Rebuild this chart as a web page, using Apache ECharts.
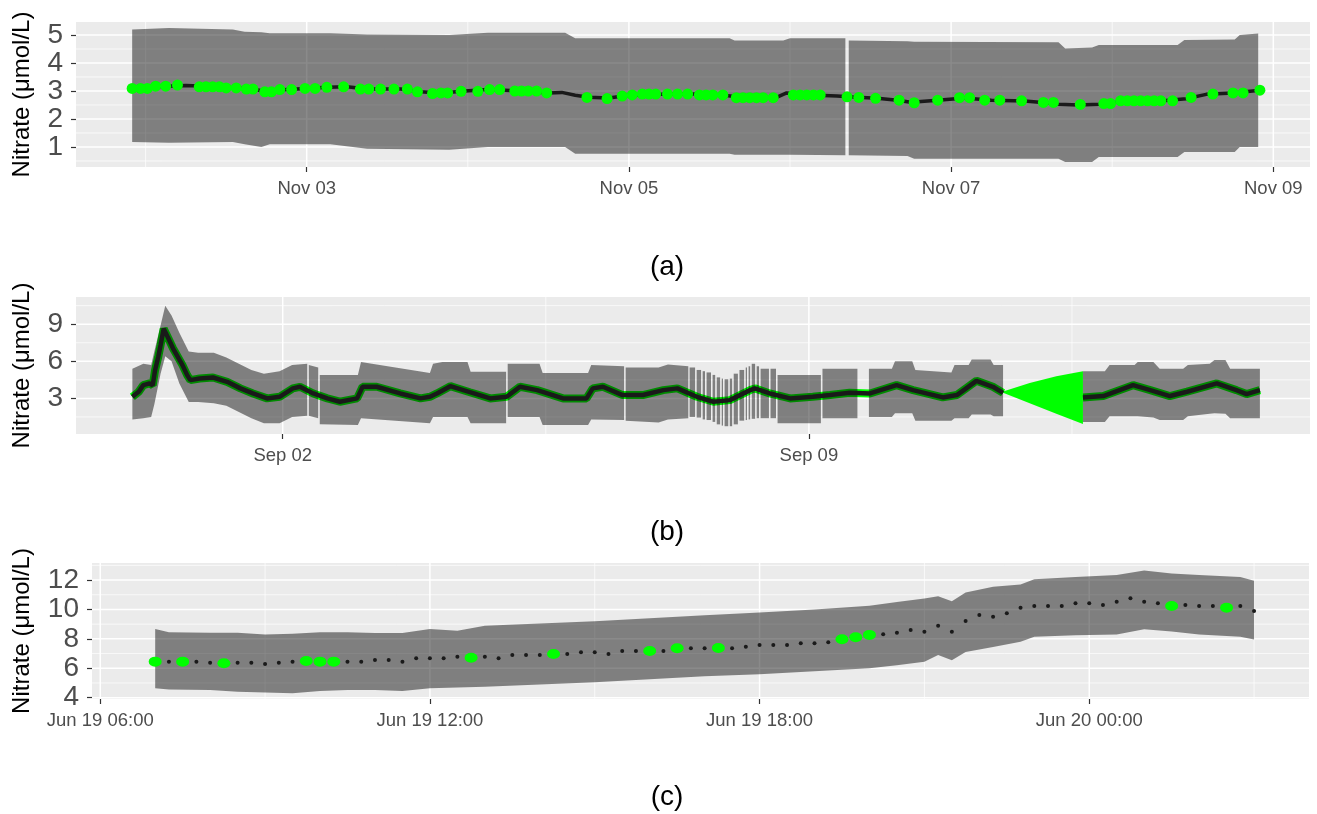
<!DOCTYPE html>
<html>
<head>
<meta charset="utf-8">
<title>Nitrate</title>
<script src="https://cdn.jsdelivr.net/npm/echarts@6/dist/echarts.min.js"></script>
<style>
  html, body { margin: 0; padding: 0; background: #fff; }
  #chart { width: 1317px; height: 814px; }
</style>
</head>
<body>
<div id="chart"></div>
<script>
// ---- panel (a): November ----
const yearA = 2019
const modelA = [
  ['11-01 22:00', 3.12], ['11-02 03:00', 3.17], ['11-02 06:00', 3.2], ['11-02 09:00', 3.17],
  ['11-02 13:00', 3.12], ['11-02 16:00', 3.07], ['11-02 18:00', 2.97], ['11-02 21:00', 3.05],
  ['11-03 00:00', 3.09], ['11-03 03:00', 3.13], ['11-03 06:00', 3.15], ['11-03 09:00', 3.07],
  ['11-03 14:00', 3.07], ['11-03 17:00', 2.97], ['11-03 20:00', 2.92], ['11-03 23:00', 2.99],
  ['11-04 03:00', 3.05], ['11-04 08:00', 3.0], ['11-04 12:00', 2.93], ['11-04 14:00', 2.95],
  ['11-04 16:00', 2.85], ['11-04 18:00', 2.78], ['11-04 21:00', 2.75], ['11-05 00:00', 2.85],
  ['11-05 06:00', 2.89], ['11-05 10:00', 2.89], ['11-05 14:00', 2.86], ['11-05 17:00', 2.76],
  ['11-05 22:00', 2.77], ['11-05 23:30', 2.93], ['11-06 03:00', 2.86], ['11-06 07:00', 2.82],
  ['11-06 10:00', 2.78], ['11-06 13:00', 2.74], ['11-06 16:00', 2.67], ['11-06 18:00', 2.6],
  ['11-06 22:00', 2.67], ['11-07 02:00', 2.75], ['11-07 06:00', 2.67], ['11-07 11:00', 2.64],
  ['11-07 14:00', 2.58], ['11-07 16:00', 2.53], ['11-07 19:00', 2.5], ['11-07 22:00', 2.53],
  ['11-08 02:00', 2.63], ['11-08 08:00', 2.66], ['11-08 11:00', 2.72], ['11-08 14:00', 2.88],
  ['11-08 18:00', 2.93], ['11-08 22:00', 3.03]
]
const obsA = [
  ['11-01 22:00', 3.09], ['11-01 23:15', 3.09], ['11-02 00:15', 3.09], ['11-02 01:30', 3.17],
  ['11-02 03:00', 3.17], ['11-02 04:45', 3.21], ['11-02 08:00', 3.15], ['11-02 09:00', 3.15],
  ['11-02 10:00', 3.15], ['11-02 11:00', 3.15], ['11-02 12:00', 3.11], ['11-02 13:30', 3.11],
  ['11-02 15:00', 3.07], ['11-02 16:00', 3.07], ['11-02 17:45', 2.97], ['11-02 18:45', 2.97],
  ['11-02 20:00', 3.05], ['11-02 21:45', 3.05], ['11-02 23:45', 3.09], ['11-03 01:15', 3.09],
  ['11-03 03:00', 3.13], ['11-03 05:30', 3.15], ['11-03 08:00', 3.07], ['11-03 09:15', 3.07],
  ['11-03 11:00', 3.07], ['11-03 13:00', 3.07], ['11-03 15:00', 3.07], ['11-03 16:30', 2.97],
  ['11-03 18:45', 2.91], ['11-03 20:00', 2.93], ['11-03 21:00', 2.93], ['11-03 23:00', 2.99],
  ['11-04 01:30', 2.99], ['11-04 03:15', 3.05], ['11-04 04:45', 3.05], ['11-04 07:00', 3.0],
  ['11-04 08:00', 3.0], ['11-04 09:00', 3.0], ['11-04 10:15', 3.0], ['11-04 11:45', 2.93],
  ['11-04 17:45', 2.77], ['11-04 20:45', 2.73], ['11-04 23:00', 2.82], ['11-05 00:30', 2.86],
  ['11-05 02:00', 2.89], ['11-05 03:00', 2.89], ['11-05 04:00', 2.89], ['11-05 05:45', 2.89],
  ['11-05 07:15', 2.89], ['11-05 08:45', 2.89], ['11-05 10:30', 2.86], ['11-05 11:30', 2.86],
  ['11-05 12:30', 2.86], ['11-05 14:00', 2.86], ['11-05 16:00', 2.76], ['11-05 17:00', 2.76],
  ['11-05 18:00', 2.76], ['11-05 19:00', 2.76], ['11-05 20:00', 2.76], ['11-05 21:30', 2.76],
  ['11-06 00:30', 2.86], ['11-06 01:30', 2.86], ['11-06 02:30', 2.86], ['11-06 03:30', 2.86],
  ['11-06 04:30', 2.86], ['11-06 08:30', 2.79], ['11-06 10:15', 2.77], ['11-06 12:45', 2.74],
  ['11-06 16:15', 2.67], ['11-06 18:30', 2.58], ['11-06 22:00', 2.67], ['11-07 01:15', 2.76],
  ['11-07 02:45', 2.76], ['11-07 05:00', 2.67], ['11-07 07:15', 2.67], ['11-07 10:30', 2.65],
  ['11-07 13:45', 2.59], ['11-07 15:15', 2.59], ['11-07 19:15', 2.52], ['11-07 22:45', 2.55],
  ['11-07 23:45', 2.55], ['11-08 01:15', 2.65], ['11-08 02:15', 2.65], ['11-08 03:15', 2.65],
  ['11-08 04:15', 2.65], ['11-08 05:15', 2.65], ['11-08 06:15', 2.65], ['11-08 07:15', 2.65],
  ['11-08 09:00', 2.65], ['11-08 11:45', 2.77], ['11-08 15:00', 2.89], ['11-08 18:00', 2.93],
  ['11-08 19:30', 2.93], ['11-08 22:00', 3.03]
]
// [time, lower, upper]; null = break in the band
const ribbonA = [
  ['11-01 22:00', 1.18, 5.2], ['11-02 03:30', 1.15, 5.25], ['11-02 13:00', 1.18, 5.2],
  ['11-02 14:45', 1.1, 5.12], ['11-02 17:15', 1.0, 5.1], ['11-02 18:30', 1.1, 5.06],
  ['11-03 03:30', 1.1, 5.06], ['11-03 09:00', 0.94, 5.02], ['11-03 21:15', 0.9, 5.0],
  ['11-04 03:00', 1.0, 5.08], ['11-04 14:30', 1.0, 5.08], ['11-04 16:00', 0.76, 4.88],
  ['11-05 15:00', 0.76, 4.88], ['11-05 15:45', 0.72, 4.8], ['11-05 23:00', 0.72, 4.8],
  ['11-06 00:00', 0.72, 4.88], ['11-06 08:15', 0.7, 4.88],
  null,
  ['11-06 08:45', 0.7, 4.8], ['11-06 17:30', 0.68, 4.78], ['11-06 18:30', 0.58, 4.76],
  ['11-07 16:00', 0.58, 4.74], ['11-07 17:00', 0.46, 4.52], ['11-07 21:00', 0.46, 4.55],
  ['11-07 22:00', 0.64, 4.64], ['11-08 09:45', 0.64, 4.64], ['11-08 10:45', 0.82, 4.82],
  ['11-08 18:15', 0.82, 4.84], ['11-08 19:00', 1.0, 5.0], ['11-08 21:45', 1.0, 5.05]
]
const xTicksA = ['11-03', '11-05', '11-07', '11-09']
const xMinorA = ['11-02', '11-04', '11-06', '11-08']
const yTicksA = [1, 2, 3, 4, 5]
const yMinorA = [0.5, 1.5, 2.5, 3.5, 4.5]

// ---- panel (b): September ----
const yearB = 2019
const modelB = [
  ['08-31 00:00', 3.13], ['08-31 02:00', 3.53], ['08-31 03:30', 4.07], ['08-31 05:30', 4.21],
  ['08-31 06:30', 4.07], ['08-31 07:15', 5.28], ['08-31 08:15', 6.35], ['08-31 09:00', 7.3],
  ['08-31 10:00', 8.64], ['08-31 10:30', 8.5], ['08-31 11:30', 7.84], ['08-31 13:00', 7.03],
  ['08-31 16:00', 5.69], ['08-31 17:30', 4.88], ['08-31 18:30', 4.48], ['08-31 21:30', 4.61],
  ['09-01 01:45', 4.69], ['09-01 06:15', 4.34], ['09-01 10:30', 3.81], ['09-01 14:30', 3.4],
  ['09-01 19:00', 3.0], ['09-01 23:00', 3.13], ['09-02 03:15', 3.81], ['09-02 05:30', 3.94],
  ['09-02 09:45', 3.4], ['09-02 14:15', 3.0], ['09-02 18:15', 2.73], ['09-02 23:45', 3.0],
  ['09-03 01:30', 3.94], ['09-03 06:00', 3.94], ['09-03 13:30', 3.4], ['09-03 20:00', 3.0],
  ['09-03 23:00', 3.13], ['09-04 01:15', 3.4], ['09-04 05:30', 3.99], ['09-04 11:45', 3.5],
  ['09-04 18:15', 3.0], ['09-04 23:30', 3.13], ['09-05 03:45', 3.94], ['09-05 09:15', 3.67],
  ['09-05 17:30', 3.0], ['09-06 01:00', 3.0], ['09-06 03:00', 3.81], ['09-06 06:15', 3.94],
  ['09-06 12:30', 3.27], ['09-06 19:00', 3.27], ['09-07 01:30', 3.67], ['09-07 06:00', 3.81],
  ['09-07 12:15', 3.13], ['09-07 17:30', 2.73], ['09-07 22:45', 2.86], ['09-08 05:15', 3.67],
  ['09-08 06:45', 3.81], ['09-08 11:30', 3.4], ['09-08 18:00', 3.0], ['09-09 01:15', 3.13],
  ['09-09 06:45', 3.27], ['09-09 13:00', 3.45], ['09-09 19:30', 3.4], ['09-10 04:00', 4.07],
  ['09-10 09:15', 3.67], ['09-10 18:45', 3.08], ['09-10 23:15', 3.27], ['09-11 05:30', 4.42],
  ['09-11 10:45', 3.94], ['09-11 14:00', 3.45],
  null,
  ['09-12 15:30', 3.08], ['09-12 22:00', 3.19], ['09-13 07:30', 4.07], ['09-13 13:00', 3.67],
  ['09-13 19:15', 3.19], ['09-14 00:45', 3.54], ['09-14 10:15', 4.21], ['09-14 16:30', 3.67],
  ['09-14 19:45', 3.35], ['09-15 00:00', 3.67]
]
const ribbonB = [
  ['08-31 00:00', 1.3, 5.4], ['08-31 03:30', 1.4, 5.8], ['08-31 06:00', 1.5, 5.7],
  ['08-31 07:00', 2.5, 6.8], ['08-31 09:00', 5.0, 8.9], ['08-31 10:30', 6.4, 10.5],
  ['08-31 12:30', 6.0, 9.7], ['08-31 15:00', 4.2, 8.3], ['08-31 18:00', 2.7, 6.8],
  ['08-31 21:00', 2.7, 6.7], ['09-01 02:00', 2.6, 6.7], ['09-01 06:00', 2.4, 6.3],
  ['09-01 10:00', 1.9, 5.8], ['09-01 14:00', 1.4, 5.3], ['09-01 18:00', 1.0, 5.0],
  ['09-01 23:00', 1.0, 5.2], ['09-02 03:00', 1.5, 5.7], ['09-02 07:50', 1.6, 5.8],
  null,
  ['09-02 08:20', 1.6, 5.7], ['09-02 11:20', 1.4, 5.5],
  null,
  ['09-02 11:50', 0.9, 4.9], ['09-03 00:00', 0.85, 4.9], ['09-03 01:00', 1.4, 5.95],
  ['09-03 12:00', 1.2, 5.5], ['09-03 23:00', 1.0, 5.05], ['09-04 00:00', 1.5, 5.8],
  ['09-04 03:00', 1.5, 5.95], ['09-04 11:00', 1.5, 5.95], ['09-04 12:00', 1.0, 5.15],
  ['09-04 23:20', 1.0, 5.15],
  null,
  ['09-04 23:50', 1.5, 5.8], ['09-05 10:00', 1.5, 5.8], ['09-05 11:00', 0.85, 5.05],
  ['09-06 01:30', 0.85, 5.05], ['09-06 02:30', 1.3, 5.7], ['09-06 13:00', 1.25, 5.6],
  null,
  ['09-06 13:30', 1.2, 5.5], ['09-07 00:00', 1.05, 5.5], ['09-07 03:00', 1.3, 5.75],
  ['09-07 09:30', 1.4, 5.6],
  null, ['09-07 09:55', 1.5, 5.5], ['09-07 11:40', 1.5, 5.5],
  null, ['09-07 12:10', 1.45, 5.3], ['09-07 13:35', 1.45, 5.3],
  null, ['09-07 14:05', 1.3, 5.2], ['09-07 14:50', 1.3, 5.2],
  null, ['09-07 15:20', 1.25, 5.1], ['09-07 16:45', 1.25, 5.1],
  null, ['09-07 17:15', 1.1, 4.9], ['09-07 18:05', 1.1, 4.9],
  null, ['09-07 18:35', 0.9, 4.7], ['09-07 19:40', 0.9, 4.7],
  null, ['09-07 20:10', 0.8, 4.6], ['09-07 20:35', 0.8, 4.6],
  null, ['09-07 21:05', 0.75, 4.55], ['09-07 22:15', 0.75, 4.55],
  null, ['09-07 22:45', 0.75, 4.6], ['09-07 23:30', 0.75, 4.6],
  null, ['09-08 00:00', 0.9, 5.0], ['09-08 01:20', 0.9, 5.0],
  null, ['09-08 01:50', 1.2, 5.3], ['09-08 03:20', 1.2, 5.3],
  null, ['09-08 03:50', 1.25, 5.5], ['09-08 04:15', 1.25, 5.5],
  null, ['09-08 04:45', 1.3, 5.6], ['09-08 05:15', 1.3, 5.6],
  null, ['09-08 05:45', 1.35, 5.8], ['09-08 06:50', 1.35, 5.8],
  null, ['09-08 07:20', 1.4, 5.6], ['09-08 08:05', 1.4, 5.6],
  null, ['09-08 08:35', 1.4, 5.4], ['09-08 11:15', 1.4, 5.4],
  null, ['09-08 11:45', 1.4, 5.4], ['09-08 13:30', 1.4, 5.4],
  null,
  ['09-08 14:00', 1.0, 4.9], ['09-09 03:50', 1.0, 4.9],
  null,
  ['09-09 04:20', 1.4, 5.4], ['09-09 15:30', 1.4, 5.4],
  null,
  ['09-09 19:10', 1.5, 5.4], ['09-10 02:30', 1.5, 5.4], ['09-10 03:30', 1.8, 6.0],
  ['09-10 09:00', 1.8, 6.0], ['09-10 10:00', 1.2, 5.3], ['09-10 21:30', 1.2, 5.1],
  ['09-10 22:30', 1.4, 5.7], ['09-11 03:00', 1.4, 5.7], ['09-11 04:00', 1.7, 6.15],
  ['09-11 10:00', 1.7, 6.15], ['09-11 11:00', 1.55, 5.7], ['09-11 14:00', 1.55, 5.7],
  null,
  ['09-12 15:30', 1.1, 5.2], ['09-12 22:30', 1.1, 5.2], ['09-13 00:00', 1.55, 5.7],
  ['09-13 08:00', 1.55, 5.7], ['09-13 09:00', 1.55, 5.95], ['09-13 14:00', 1.45, 5.95],
  ['09-13 16:00', 1.25, 5.4], ['09-13 23:30', 1.25, 5.4], ['09-14 01:00', 1.55, 5.7],
  ['09-14 08:00', 1.75, 5.8], ['09-14 09:30', 1.8, 6.1], ['09-14 13:00', 1.75, 6.1],
  ['09-14 14:30', 1.4, 5.4], ['09-15 00:00', 1.4, 5.4]
]
// green band bridging the gap in the model run
const gapBandB = [
  ['09-11 14:00', 3.45, 3.55], ['09-11 22:30', 2.6, 4.25],
  ['09-12 07:00', 1.75, 4.8], ['09-12 15:30', 0.93, 5.2]
]
const xTicksB = ['09-02', '09-09']
const xMinorB = ['09-05 12:00', '09-12 12:00']
const yTicksB = [3, 6, 9]
const yMinorB = [1.5, 4.5, 7.5, 10.5]

// ---- panel (c): June ----
const yearC = 2019
const modelC = [
  ['06-19 07:00', 6.45], ['06-19 07:15', 6.45], ['06-19 07:30', 6.45], ['06-19 07:45', 6.45],
  ['06-19 08:00', 6.38], ['06-19 08:15', 6.34], ['06-19 08:30', 6.38], ['06-19 08:45', 6.38],
  ['06-19 09:00', 6.29], ['06-19 09:15', 6.38], ['06-19 09:30', 6.45], ['06-19 09:45', 6.5],
  ['06-19 10:00', 6.45], ['06-19 10:15', 6.45], ['06-19 10:30', 6.45], ['06-19 10:45', 6.45],
  ['06-19 11:00', 6.56], ['06-19 11:15', 6.56], ['06-19 11:30', 6.45], ['06-19 11:45', 6.68],
  ['06-19 12:00', 6.68], ['06-19 12:15', 6.68], ['06-19 12:30', 6.79], ['06-19 12:45', 6.72],
  ['06-19 13:00', 6.79], ['06-19 13:15', 6.68], ['06-19 13:30', 6.9], ['06-19 13:45', 6.9],
  ['06-19 14:00', 6.9], ['06-19 14:15', 6.97], ['06-19 14:30', 6.97], ['06-19 14:45', 7.09],
  ['06-19 15:00', 7.09], ['06-19 15:15', 6.97], ['06-19 15:30', 7.18], ['06-19 15:45', 7.18],
  ['06-19 16:00', 7.18], ['06-19 16:15', 7.18], ['06-19 16:30', 7.36], ['06-19 16:45', 7.36],
  ['06-19 17:00', 7.36], ['06-19 17:15', 7.38], ['06-19 17:30', 7.36], ['06-19 17:45', 7.47],
  ['06-19 18:00', 7.59], ['06-19 18:15', 7.59], ['06-19 18:30', 7.59], ['06-19 18:45', 7.7],
  ['06-19 19:00', 7.7], ['06-19 19:15', 7.77], ['06-19 19:30', 7.97], ['06-19 19:45', 8.11],
  ['06-19 20:00', 8.27], ['06-19 20:15', 8.31], ['06-19 20:30', 8.42], ['06-19 20:45', 8.61],
  ['06-19 21:00', 8.49], ['06-19 21:15', 8.9], ['06-19 21:30', 8.49], ['06-19 21:45', 9.22],
  ['06-19 22:00', 9.63], ['06-19 22:15', 9.51], ['06-19 22:30', 9.74], ['06-19 22:45', 10.12],
  ['06-19 23:00', 10.24], ['06-19 23:15', 10.24], ['06-19 23:30', 10.24], ['06-19 23:45', 10.42],
  ['06-20 00:00', 10.42], ['06-20 00:15', 10.31], ['06-20 00:30', 10.53], ['06-20 00:45', 10.76],
  ['06-20 01:00', 10.53], ['06-20 01:15', 10.42], ['06-20 01:30', 10.24], ['06-20 01:45', 10.31],
  ['06-20 02:00', 10.24], ['06-20 02:15', 10.24], ['06-20 02:30', 10.12], ['06-20 02:45', 10.24],
  ['06-20 03:00', 9.9]
]
const obsC = [
  ['06-19 07:00', 6.45], ['06-19 07:30', 6.45], ['06-19 08:15', 6.34], ['06-19 09:45', 6.5],
  ['06-19 10:00', 6.45], ['06-19 10:15', 6.45], ['06-19 12:45', 6.72], ['06-19 14:15', 6.97],
  ['06-19 16:00', 7.18], ['06-19 16:30', 7.36], ['06-19 17:15', 7.38], ['06-19 19:30', 7.97],
  ['06-19 19:45', 8.11], ['06-19 20:00', 8.27], ['06-20 01:30', 10.24], ['06-20 02:30', 10.12]
]
const ribbonC = [
  ['06-19 07:00', 4.64, 8.67], ['06-19 07:15', 4.55, 8.45], ['06-19 08:00', 4.52, 8.42],
  ['06-19 08:30', 4.41, 8.42], ['06-19 09:00', 4.35, 8.3], ['06-19 09:30', 4.3, 8.35],
  ['06-19 10:00', 4.45, 8.45], ['06-19 10:30', 4.52, 8.45], ['06-19 11:00', 4.52, 8.4],
  ['06-19 11:30', 4.45, 8.4], ['06-19 12:00', 4.64, 8.67], ['06-19 12:30', 4.7, 8.55],
  ['06-19 13:00', 4.75, 8.9], ['06-19 14:00', 4.9, 9.05], ['06-19 15:00', 5.05, 9.2],
  ['06-19 16:00', 5.25, 9.4], ['06-19 17:00', 5.45, 9.6], ['06-19 18:00', 5.6, 9.8],
  ['06-19 19:00', 5.8, 10.0], ['06-19 20:00', 6.0, 10.25], ['06-19 20:30', 6.2, 10.5],
  ['06-19 21:00', 6.45, 10.75], ['06-19 21:15', 6.9, 10.9], ['06-19 21:30', 6.55, 10.55],
  ['06-19 21:45', 7.1, 11.15], ['06-19 22:15', 7.45, 11.55], ['06-19 22:45', 7.8, 11.7],
  ['06-19 23:00', 8.15, 12.05], ['06-19 23:45', 8.25, 12.2], ['06-20 00:30', 8.3, 12.35],
  ['06-20 01:00', 8.65, 12.65], ['06-20 01:30', 8.5, 12.45], ['06-20 02:00', 8.3, 12.35],
  ['06-20 02:45', 8.15, 12.2], ['06-20 03:00', 7.95, 11.95]
]
const xTicksC = ['06-19 06:00', '06-19 12:00', '06-19 18:00', '06-20 00:00']
const xMinorC = ['06-19 09:00', '06-19 15:00', '06-19 21:00', '06-20 03:00']
const yTicksC = [4, 6, 8, 10, 12]
const yMinorC = [5, 7, 9, 11, 13]

// ---- helpers ----
const FONT = 'Liberation Sans, Arial, sans-serif'
const MONTHS = ['Jan', 'Feb', 'Mar', 'Apr', 'May', 'Jun', 'Jul', 'Aug', 'Sep', 'Oct', 'Nov', 'Dec']
const RIBBON = 'rgba(0,0,0,0.46)'
const GREEN = '#00ff00'
const BLACK = '#1a1a1a'

// times are kept as UTC milliseconds on a plain value axis
const toTime = (year, s) =>
  Date.parse(`${year}-${s.slice(0, 5)}T${s.length > 5 ? s.slice(6) : '00:00'}:00Z`)
const pad = (n) => String(n).padStart(2, '0')
const fmtDay = (v) => {
  const d = new Date(v)
  return `${MONTHS[d.getUTCMonth()]} ${pad(d.getUTCDate())}`
}
const fmtHour = (v) => {
  const d = new Date(v)
  return `${fmtDay(v)} ${pad(d.getUTCHours())}:${pad(d.getUTCMinutes())}`
}
const points = (year, rows) => rows.map((r) => (r === null ? null : [toTime(year, r[0]), r[1]]))

function ribbon(i, year, rows, fill, z) {
  const segs = [[]]
  rows.forEach((r) => {
    if (r === null) segs.push([])
    else segs[segs.length - 1].push([toTime(year, r[0]), r[1], r[2]])
  })
  return {
    type: 'custom', xAxisIndex: i, yAxisIndex: i, z, silent: true,
    data: segs.map((s) => [s[0][0], s[0][1]]),
    renderItem: (params, api) => {
      const seg = segs[params.dataIndex]
      const upper = seg.map((p) => api.coord([p[0], p[2]]))
      const lower = seg.map((p) => api.coord([p[0], p[1]])).reverse()
      return { type: 'polygon', shape: { points: upper.concat(lower) }, style: { fill } }
    }
  }
}

// panel grid lines, drawn through the panel's own axes
function gridLines(i, xMin, yMin, hMajor, hMinor, vMajor, vMinor) {
  const lines = []
  hMajor.forEach((v) => lines.push({ h: true, v, w: 1.5 }))
  hMinor.forEach((v) => lines.push({ h: true, v, w: 0.7 }))
  vMajor.forEach((v) => lines.push({ h: false, v, w: 1.5 }))
  vMinor.forEach((v) => lines.push({ h: false, v, w: 0.7 }))
  return {
    type: 'custom', xAxisIndex: i, yAxisIndex: i, z: 1, silent: true,
    data: lines.map(() => [xMin, yMin]),
    renderItem: (params, api) => {
      const l = lines[params.dataIndex]
      const cs = params.coordSys
      const style = { stroke: '#ffffff', lineWidth: l.w }
      if (l.h) {
        const y = api.coord([xMin, l.v])[1]
        return { type: 'line', shape: { x1: cs.x, y1: y, x2: cs.x + cs.width, y2: y }, style }
      }
      const x = api.coord([l.v, yMin])[0]
      return { type: 'line', shape: { x1: x, y1: cs.y, x2: x, y2: cs.y + cs.height }, style }
    }
  }
}

function xAxisFor(i, min, max, ticks, fmt) {
  return {
    type: 'value', gridIndex: i, min, max, scale: true,
    axisLine: { show: false },
    axisTick: { show: true, customValues: ticks, length: 5, lineStyle: { color: '#333', width: 1.2 } },
    axisLabel: { customValues: ticks, formatter: fmt, fontSize: 18.5, color: '#4d4d4d', margin: 12, fontFamily: FONT },
    splitLine: { show: false }
  }
}

function yAxisFor(i, min, max, ticks, nameGap) {
  return {
    type: 'value', gridIndex: i, min, max,
    name: 'Nitrate (μmol/L)', nameLocation: 'middle', nameRotate: 90, nameGap,
    nameTextStyle: { color: '#000', fontSize: 24, fontFamily: FONT },
    axisLine: { show: false },
    axisTick: { show: true, customValues: ticks, length: 5, lineStyle: { color: '#333', width: 1.2 } },
    axisLabel: { customValues: ticks, fontSize: 28, color: '#4d4d4d', margin: 13, fontFamily: FONT },
    splitLine: { show: false }
  }
}

// ---- axis ranges ----
const xRangeA = [toTime(yearA, '11-01 13:38'), toTime(yearA, '11-09 05:28')]
const xRangeB = [toTime(yearB, '08-30 06:00'), toTime(yearB, '09-15 16:00')]
const xRangeC = [toTime(yearC, '06-19 05:51'), toTime(yearC, '06-20 04:00')]
const yRangeA = [0.284, 5.465]
const yRangeB = [0.121, 11.2]
const yRangeC = [3.91, 13.16]

const tA = (arr) => arr.map((s) => toTime(yearA, s))
const tB = (arr) => arr.map((s) => toTime(yearB, s))
const tC = (arr) => arr.map((s) => toTime(yearC, s))

const panelGrid = { show: true, backgroundColor: '#ebebeb', borderWidth: 0 }

const option = {
  animation: false,
  backgroundColor: '#ffffff',
  grid: [
    { ...panelGrid, left: 76, right: 7, top: 22, height: 145 },
    { ...panelGrid, left: 76, right: 7, top: 297, height: 137 },
    { ...panelGrid, left: 92, right: 8, top: 563, height: 136 }
  ],
  xAxis: [
    xAxisFor(0, xRangeA[0], xRangeA[1], tA(xTicksA), fmtDay),
    xAxisFor(1, xRangeB[0], xRangeB[1], tB(xTicksB), fmtDay),
    xAxisFor(2, xRangeC[0], xRangeC[1], tC(xTicksC), fmtHour)
  ],
  yAxis: [
    yAxisFor(0, yRangeA[0], yRangeA[1], yTicksA, 42),
    yAxisFor(1, yRangeB[0], yRangeB[1], yTicksB, 42),
    yAxisFor(2, yRangeC[0], yRangeC[1], yTicksC, 58)
  ],
  graphic: ['(a)', '(b)', '(c)'].map((text, k) => ({
    type: 'text', x: 667, y: [267, 532, 797][k],
    style: { text, fontSize: 28, fontFamily: FONT, fill: '#000', textAlign: 'center', textVerticalAlign: 'middle' }
  })),
  series: [
    // (a)
    gridLines(0, xRangeA[0], yRangeA[0], yTicksA, yMinorA, tA(xTicksA), tA(xMinorA)),
    ribbon(0, yearA, ribbonA, RIBBON, 3),
    {
      type: 'line', xAxisIndex: 0, yAxisIndex: 0, z: 4, showSymbol: false,
      data: points(yearA, modelA), lineStyle: { color: BLACK, width: 3.5 }
    },
    {
      type: 'scatter', xAxisIndex: 0, yAxisIndex: 0, z: 5, symbolSize: 11,
      data: points(yearA, obsA), itemStyle: { color: GREEN, opacity: 1 }
    },
    // (b)
    gridLines(1, xRangeB[0], yRangeB[0], yTicksB, yMinorB, tB(xTicksB), tB(xMinorB)),
    ribbon(1, yearB, gapBandB, GREEN, 2),
    {
      type: 'line', xAxisIndex: 1, yAxisIndex: 1, z: 2, showSymbol: false,
      data: points(yearB, modelB), lineStyle: { color: GREEN, width: 8 }
    },
    ribbon(1, yearB, ribbonB, RIBBON, 3),
    {
      type: 'line', xAxisIndex: 1, yAxisIndex: 1, z: 4, showSymbol: false,
      data: points(yearB, modelB), lineStyle: { color: BLACK, width: 4.5 }
    },
    // (c)
    gridLines(2, xRangeC[0], yRangeC[0], yTicksC, yMinorC, tC(xTicksC), tC(xMinorC)),
    ribbon(2, yearC, ribbonC, RIBBON, 3),
    {
      type: 'scatter', xAxisIndex: 2, yAxisIndex: 2, z: 4, symbolSize: 4,
      data: points(yearC, modelC), itemStyle: { color: BLACK, opacity: 1 }
    },
    {
      type: 'scatter', xAxisIndex: 2, yAxisIndex: 2, z: 5, symbolSize: [13, 10],
      data: points(yearC, obsC), itemStyle: { color: GREEN, opacity: 1 }
    }
  ]
}

const chart = echarts.init(document.getElementById('chart'), null, { renderer: 'canvas' })
chart.setOption(option)
window.addEventListener('resize', () => chart.resize())
</script>
</body>
</html>
